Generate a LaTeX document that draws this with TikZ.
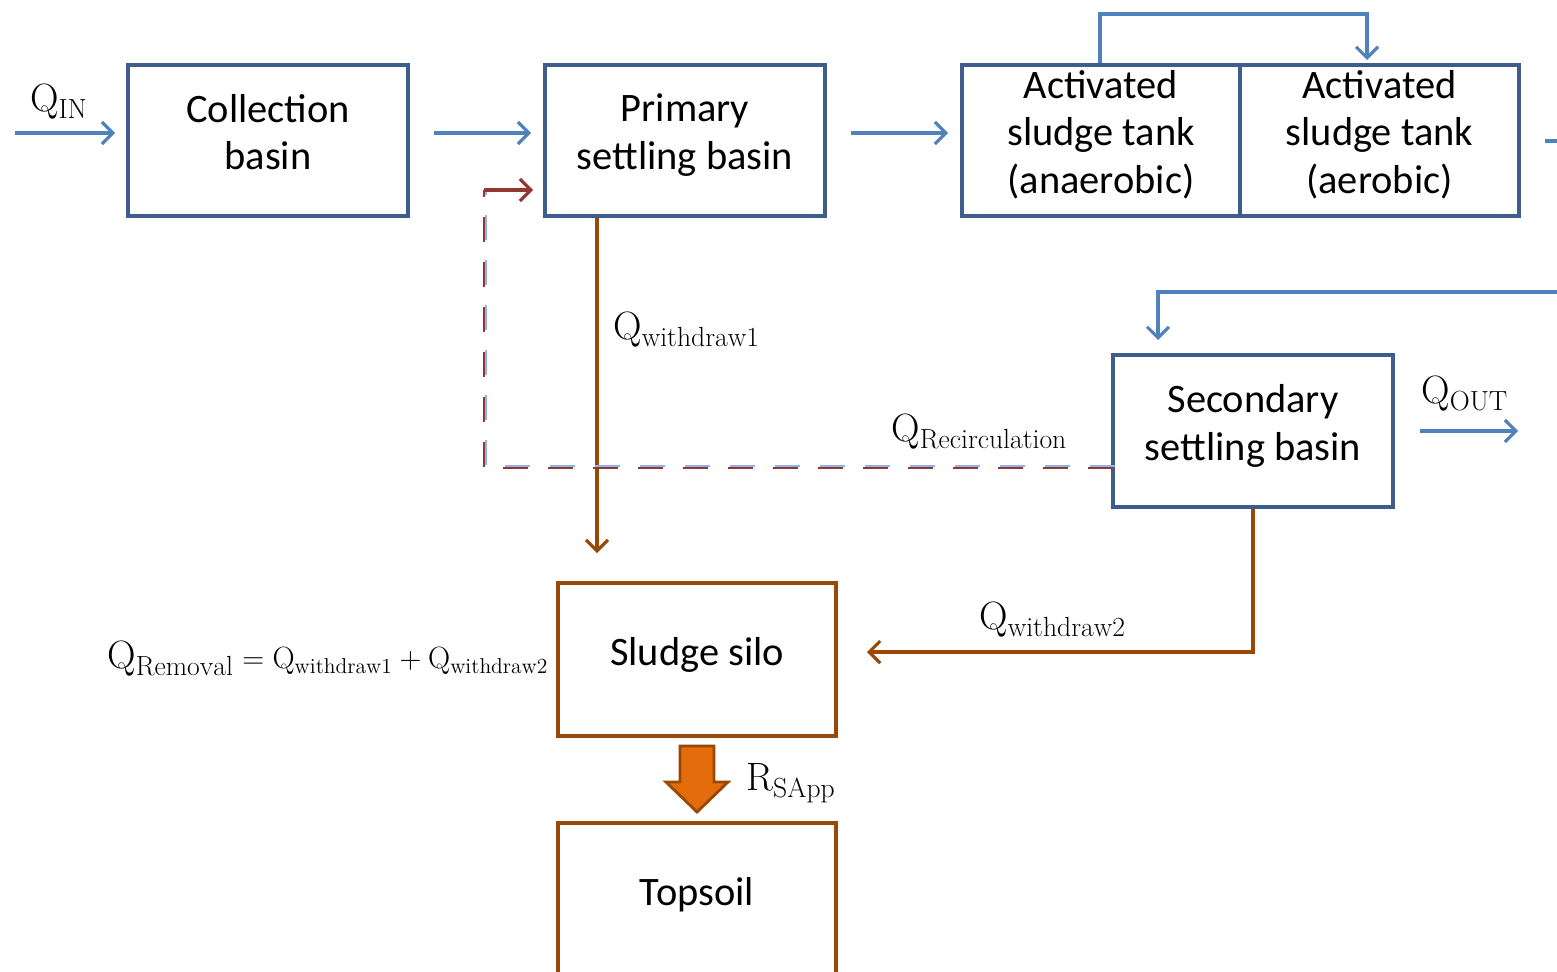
\documentclass[tikz,border=0pt]{standalone}
\usepackage{fontspec}
\setsansfont{Carlito}
\usetikzlibrary{arrows.meta,calc}
\definecolor{boxblue}{HTML}{3D5D8D}
\definecolor{flowblue}{HTML}{4F81BD}
\definecolor{sludge}{HTML}{984807}
\definecolor{recred}{HTML}{943634}
\definecolor{recblue}{HTML}{8DB4E2}
\definecolor{orangefill}{HTML}{E46C0A}
\tikzset{
  procbox/.style={draw=boxblue, line width=2.3pt, minimum width=5.6cm, minimum height=3.02cm, inner sep=0pt, align=center,
    font=\sffamily\fontsize{23}{27}\selectfont,
    execute at begin node={\rule{0pt}{0.6cm}},
    execute at end node={\rule[-0.35cm]{0pt}{0pt}}},
  sludgebox/.style={procbox, draw=sludge},
  tip/.style={-{Straight Barb[length=0.22cm,width=0.44cm,line width=1.8pt]}},
  flow/.style={draw=flowblue, line width=2pt, tip},
  sludgeflow/.style={draw=sludge, line width=2pt, tip},
  qlabel/.style={inner sep=0pt, font=\fontsize{22.5}{26}\selectfont},
}
\begin{document}
\begin{tikzpicture}[x=0.02cm, y=-0.02cm]
\useasboundingbox (0,0) rectangle (1557,971);
\clip (0,0) rectangle (1557,971);
% boxes
\node[procbox] (collection) at (268,140.5) {Collection\\basin};
\node[procbox] (primary) at (685,140.5) {Primary\\settling basin};
\node[procbox, minimum width=5.56cm] (anaerobic) at (1101,140.5) {Activated\\sludge tank\\(anaerobic)};
\node[procbox, minimum width=5.58cm] (aerobic) at (1379.5,140.5) {Activated\\sludge tank\\(aerobic)};
\node[procbox, minimum height=3.04cm] (secondary) at (1253,431) {Secondary\\settling basin};
\node[sludgebox, minimum width=5.56cm, minimum height=3.06cm] (silo) at (697,659.5) {Sludge silo};
\node[sludgebox, minimum width=5.56cm, minimum height=3.06cm] (topsoil) at (697,899.5) {Topsoil};
% coordinates
\coordinate (qin) at (15,133);
\coordinate (qout) at (1518,431);
\coordinate (aerout) at (1545,141);
\coordinate (rightedge) at (1600,141);
\coordinate (recstart) at (1113,468);
\coordinate (reccorner) at (484,468);
\coordinate (recend) at (533,190);
% main line flows
\draw[flow, shorten >=0.22cm] (qin) -- (qin -| collection.west);
\draw[flow, shorten <=0.48cm, shorten >=0.24cm] (qin -| collection.east) -- (qin -| primary.west);
\draw[flow, shorten <=0.48cm, shorten >=0.24cm] (qin -| primary.east) -- (qin -| anaerobic.west);
% top recycle between tanks
\draw[flow, shorten >=0.06cm] (1100,0 |- anaerobic.north) -- (1100,14) -- (1367,14) -- (1367,0 |- aerobic.north);
% aerobic out to secondary
\draw[flow, shorten >=0.26cm] (aerout) -- (rightedge) -- (1600,292) -- (1158,292) -- (1158,0 |- secondary.north);
% outflow
\draw[flow, shorten <=0.5cm] (qout -| secondary.east) -- (qout);
% withdraw 1
\draw[sludgeflow, shorten >=0.56cm] (597,0 |- primary.south) -- (597,0 |- silo.north);
% withdraw 2
\draw[sludgeflow, shorten >=0.58cm] (secondary.south) -- (1253,652) -- (silo.east |- 0,652);
% recirculation (dashed, with light shadow)
\draw[recblue, line width=1.6pt, dash pattern=on 0.5cm off 0.4cm, transform canvas={xshift=1.1pt, yshift=1.1pt}] (recstart) -- (reccorner) -- (reccorner |- recend);
\draw[recred, line width=1.6pt, dash pattern=on 0.5cm off 0.4cm] (recstart) -- (reccorner) -- (reccorner |- recend);
\draw[recred, line width=2pt, tip] (reccorner |- recend) -- (recend);
% R_SApp block arrow
\draw[sludge, line width=1.6pt, fill=orangefill, line join=miter]
  (680,746) -- (714,746) -- (714,782) -- (728,782) -- (697,812) -- (666,782) -- (680,782) -- cycle;
% labels
\node[qlabel] (lin) at (59,102) {$\mathrm{Q}_{\mathrm{IN}}$};
\node[qlabel, anchor=west] (lw1) at (613,330) {$\mathrm{Q}_{\mathrm{withdraw1}}$};
\node[qlabel, anchor=west] (lrec) at (891,432) {$\mathrm{Q}_{\mathrm{Recirculation}}$};
\node[qlabel, anchor=west] (lout) at (1421,394) {$\mathrm{Q}_{\mathrm{OUT}}$};
\node[qlabel, anchor=west] (lw2) at (979,620) {$\mathrm{Q}_{\mathrm{withdraw2}}$};
\node[qlabel, anchor=west] (lsapp) at (746,783) {$\mathrm{R}_{\mathrm{SApp}}$};
\node[qlabel, anchor=west] (lrem) at (107,659) {$\mathrm{Q}_{\mathrm{Removal}}$\fontsize{17.5}{20}\selectfont$\;=\mathrm{Q}_{\mathrm{withdraw1}}+\mathrm{Q}_{\mathrm{withdraw2}}$};
\end{tikzpicture}
\end{document}
